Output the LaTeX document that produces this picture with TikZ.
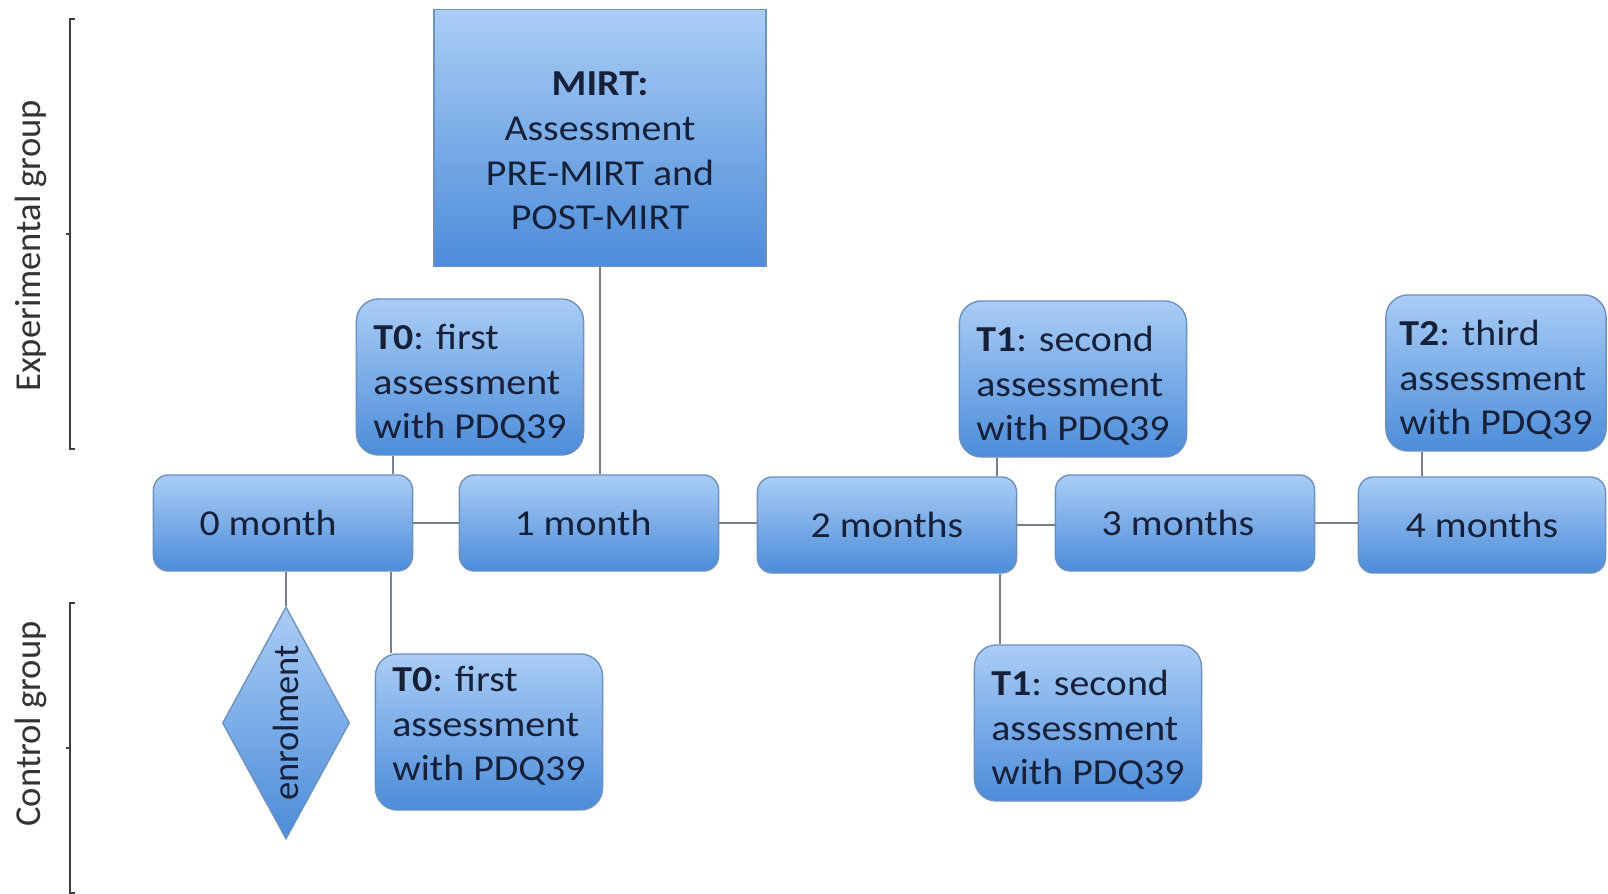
\documentclass[tikz,border=0pt]{standalone}
\usepackage{fontspec}
\setmainfont{Carlito}[FakeStretch=1.09]
\newfontfamily\sidefont{Carlito}
\usepackage{tikz}
\usetikzlibrary{shapes.geometric,calc}

\definecolor{boxtop}{RGB}{170,205,245}
\definecolor{boxbot}{RGB}{76,140,217}
\definecolor{boxline}{RGB}{110,145,190}
\definecolor{txt}{RGB}{22,32,56}
\definecolor{linkgray}{RGB}{118,128,140}

\begin{document}
\begin{tikzpicture}[x=0.01cm,y=-0.01cm]
        \tikzstyle{every node}=[font=\fontsize{10.4}{12.7}\selectfont, text=txt]
        \tikzstyle{month}=[draw=boxline, line width=0.4pt, rounded corners=0.15cm, top color=boxtop, bottom color=boxbot, minimum width=2.59cm, minimum height=0.96cm, inner sep=0pt]
        \tikzstyle{assess}=[month, rounded corners=0.22cm, minimum width=2.27cm, minimum height=1.56cm, align=left]
        \tikzstyle{mirtbox}=[month, rounded corners=0pt, minimum width=3.32cm, minimum height=2.57cm, align=center]
        \tikzstyle{enrolbox}=[diamond, aspect=2, draw=boxline, line width=0.4pt, rotate=90, top color=boxtop, bottom color=boxbot, minimum width=2.32cm, minimum height=1.27cm, inner sep=0pt, font=\sidefont\fontsize{10.4}{12.7}\selectfont]
        \tikzstyle{link}=[draw=linkgray, line width=0.6pt]
        \tikzstyle{bracket}=[draw=black!75, line width=0.6pt]
        \tikzstyle{grouplabel}=[font=\sidefont\fontsize{10.4}{12.7}\selectfont, text=black!80, rotate=90]

        \useasboundingbox (0,0) rectangle (1608,894);

        %%% Groups
        \node[grouplabel] (expgroup) at (31,246) {Experimental group};
        \node[grouplabel] (ctlgroup) at (31,724) {Control group};
        \draw[bracket] (75,19) -- (70,19) -- (70,449) -- (75,449);
        \draw[bracket] (66,234) -- (70,234);
        \draw[bracket] (75,603) -- (70,603) -- (70,893) -- (75,893);
        \draw[bracket] (66,748) -- (70,748);

        %%% Timeline
        \node[month] (m0) at (283,523) {0 month\hspace*{0.3cm}};
        \node[month] (m1) at (589,523) {1 month\hspace*{0.12cm}};
        \node[month] (m2) at (887,525) {2 months};
        \node[month] (m3) at (1185,523) {3 months\hspace*{0.14cm}};
        \node[month,minimum width=2.47cm] (m4) at (1482,525) {4 months};

        %%% Experimental group
        \node[mirtbox] (mirt) at (600,138) {\rule{0pt}{0.5cm}\textbf{MIRT:}\\Assessment\\PRE-MIRT and\\POST-MIRT};
        \node[assess] (t0exp) at (470,377) {\rule{0pt}{0.39cm}\textbf{T0}: first\\assessment\\with PDQ39};
        \node[assess] (t1exp) at (1073,379) {\rule{0pt}{0.39cm}\textbf{T1}: second\\assessment\\with PDQ39};
        \node[assess,minimum width=2.20cm] (t2exp) at (1496,373) {\rule{0pt}{0.39cm}\textbf{T2}: third\\assessment\\with PDQ39};

        %%% Control group
        \node[enrolbox] (enrol) at (286,723) {enrolment};
        \node[assess] (t0ctl) at (489,732) {\textbf{T0}: first\\assessment\\with PDQ39\rule[-0.17cm]{0pt}{0.17cm}};
        \node[assess] (t1ctl) at (1088,723) {\rule{0pt}{0.39cm}\textbf{T1}: second\\assessment\\with PDQ39};

        \draw[link] (m0.east) -- (m0.east -| m1.west);
        \draw[link] (m1.east) -- (m1.east -| m2.west);
        \draw[link] (m2.east) -- (m2.east -| m3.west);
        \draw[link] (m3.east) -- (m3.east -| m4.west);

        \draw[link] ([xshift=0.37cm]t0exp.south west) -- ([xshift=0.37cm]t0exp.south west |- m0.north);
        \draw[link] (mirt.south) -- (mirt.south |- m1.north);
        \draw[link] ([xshift=0.38cm]t1exp.south west) -- ([xshift=0.38cm]t1exp.south west |- m2.north);
        \draw[link] ([xshift=0.37cm]t2exp.south west) -- ([xshift=0.37cm]t2exp.south west |- m4.north);

        \draw[link] (enrol.east |- m0.south) -- (enrol.east);
        \draw[link] ([xshift=0.16cm]t0ctl.north west |- m0.south) -- ([xshift=0.16cm]t0ctl.north west);
        \draw[link] ([xshift=0.26cm]t1ctl.north west |- m2.south) -- ([xshift=0.26cm]t1ctl.north west);
    \end{tikzpicture}
\end{document}
